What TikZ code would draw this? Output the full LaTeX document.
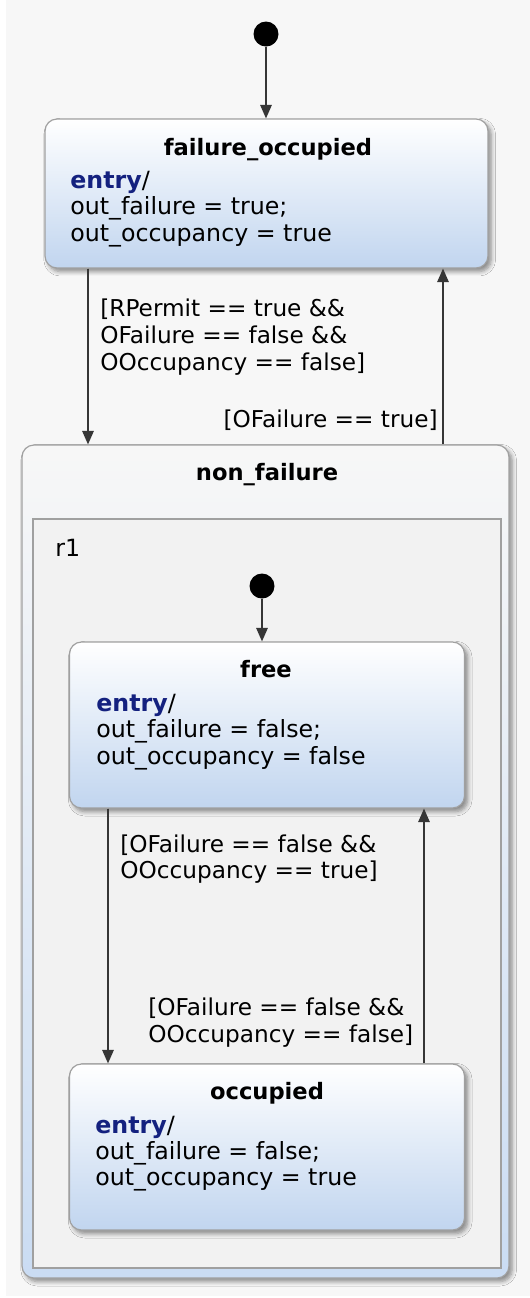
\documentclass[tikz,border=0pt]{standalone}
\usepackage{fontspec}
\setmainfont{DejaVu Sans}
\usetikzlibrary{arrows.meta,shadows.blur}
\definecolor{canvas}{HTML}{F7F7F7}
\definecolor{boxblue}{HTML}{C1D5EF}
\definecolor{outerblue}{HTML}{CADCF3}
\definecolor{regiongray}{HTML}{F2F2F2}
\definecolor{edgegray}{HTML}{A0A0A0}
\definecolor{keyword}{HTML}{14217F}
\definecolor{wire}{HTML}{363636}
\newcommand{\entrykw}{\textcolor{keyword}{\bfseries entry}/}

\begin{document}
\begin{tikzpicture}[x=0.5pt,y=-0.5pt,
  statebox/.style={draw=edgegray, line width=0.6pt, rounded corners=6pt,
    top color=white, bottom color=boxblue, inner sep=0pt,
    blur shadow={shadow xshift=1.6pt, shadow yshift=-1.8pt,
      shadow blur steps=6, shadow opacity=45}},
  outerbox/.style={draw=edgegray, line width=0.6pt, rounded corners=6pt,
    top color=white!97!black, bottom color=outerblue, inner sep=0pt,
    blur shadow={shadow xshift=1.6pt, shadow yshift=-1.8pt,
      shadow blur steps=6, shadow opacity=45}},
  regionbox/.style={draw=edgegray, line width=0.6pt, fill=regiongray, inner sep=0pt},
  initial/.style={circle, fill=black, minimum size=12.5pt, inner sep=0pt},
  title/.style={font=\fontsize{11.3}{13}\selectfont\bfseries, anchor=base, inner sep=0pt},
  body/.style={font=\fontsize{11.85}{13.5}\selectfont, anchor=base west, inner sep=0pt},
  guard/.style={font=\fontsize{11.6}{13.5}\selectfont, anchor=base west, inner sep=0pt},
  trans/.style={draw=wire, line width=0.7pt,
    -{Triangle[length=6.8pt,width=5.8pt]}, fill=wire},
]
% page and canvas
\useasboundingbox (0,0) rectangle (530,1298);
\fill[white] (0,0) rectangle (530,1298);
\fill[canvas] (6,0) rectangle (530,1296);

% top-level initial state
\node[initial] (init0) at (266,34) {};

% failure_occupied
\node[statebox, minimum width=221.5pt, minimum height=74.5pt] (fo) at (266.5,193.5) {};
\node[title] (fot) at (268,155) {failure\_occupied};
\node[body] (fo1) at (70,188) {\entrykw};
\node[body] (fo2) at (70,214) {out\_failure = true;};
\node[body] (fo3) at (70,241) {out\_occupancy = true};

% non_failure composite state with region r1
\node[outerbox, minimum width=243.5pt, minimum height=416.5pt] (nf) at (265.5,861.5) {};
\node[title] (nft) at (267,480) {non\_failure};
\node[regionbox, minimum width=234pt, minimum height=374.5pt] (r1) at (267,893.5) {};
\node[body] (r1t) at (55,556) {r1};

\node[initial] (init1) at (262,586) {};

% free
\node[statebox, minimum width=197.5pt, minimum height=83pt] (fr) at (267,725) {};
\node[title] (frt) at (266,677) {free};
\node[body] (fr1) at (96,711) {\entrykw};
\node[body] (fr2) at (96,737) {out\_failure = false;};
\node[body] (fr3) at (96,764) {out\_occupancy = false};

% occupied
\node[statebox, minimum width=197.5pt, minimum height=83pt] (oc) at (267,1147) {};
\node[title] (oct) at (267,1099) {occupied};
\node[body] (oc1) at (95,1133) {\entrykw};
\node[body] (oc2) at (95,1159) {out\_failure = false;};
\node[body] (oc3) at (95,1185) {out\_occupancy = true};

% x positions of the vertical transitions
\coordinate (xa) at (88,0);
\coordinate (xb) at (443,0);
\coordinate (xc) at (108,0);
\coordinate (xd) at (424,0);

% transitions
\draw[trans] (init0) -- (init0 |- fo.north);
\draw[trans] (fo.south -| xa) -- (nf.north -| xa);
\draw[trans] (nf.north -| xb) -- (fo.south -| xb);
\draw[trans] (init1) -- (init1 |- fr.north);
\draw[trans] (fr.south -| xc) -- (oc.north -| xc);
\draw[trans] (oc.north -| xd) -- (fr.south -| xd);

% guards
\node[guard] (g1a) at (100,316) {[RPermit == true \&\&};
\node[guard] (g1b) at (100,343) {OFailure == false \&\&};
\node[guard] (g1c) at (100,370) {OOccupancy == false]};
\node[guard, anchor=base east] (g2) at (438,427) {[OFailure == true]};
\node[guard] (g3a) at (120,852) {[OFailure == false \&\&};
\node[guard] (g3b) at (120,878) {OOccupancy == true]};
\node[guard] (g4a) at (148,1015) {[OFailure == false \&\&};
\node[guard] (g4b) at (148,1042) {OOccupancy == false]};
\end{tikzpicture}
\end{document}
